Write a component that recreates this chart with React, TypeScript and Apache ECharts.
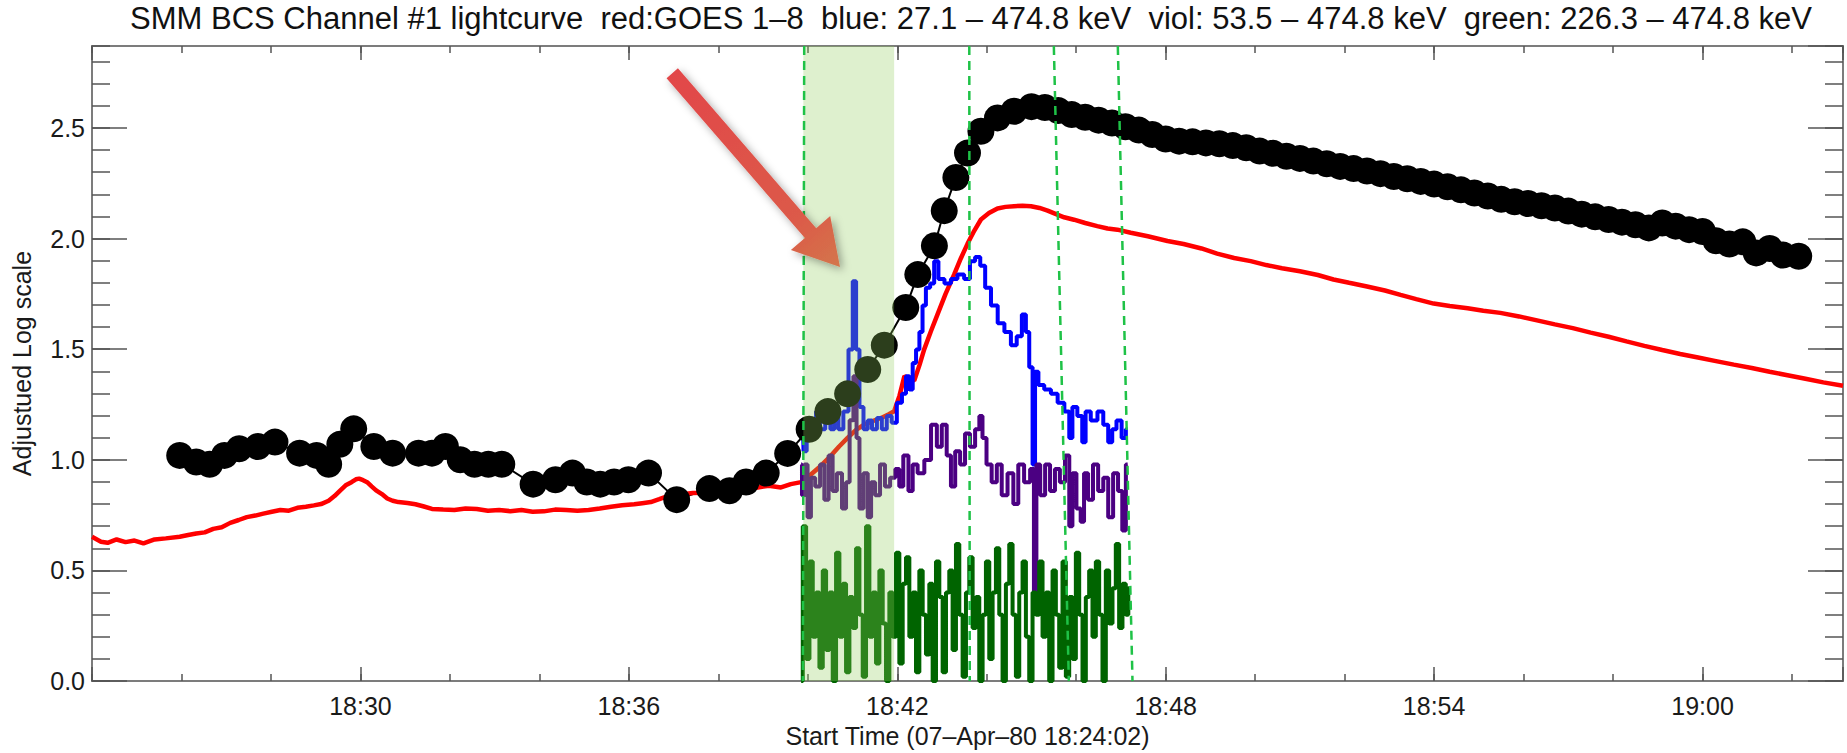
import React, { useEffect, useRef } from "react";
import * as echarts from "echarts";

// ---- axis ranges (minutes after 18:00) ----
const X_MIN = 24;
const X_MAX = 63.14;
const Y_MAX = 2.87;

const TITLE =
  "SMM BCS Channel #1 lightcurve  red:GOES 1\u20138  blue: 27.1 \u2013 474.8 keV  viol: 53.5 \u2013 474.8 keV  green: 226.3 \u2013 474.8 keV";
const X_NAME = "Start Time (07\u2013Apr\u201380 18:24:02)";
const Y_NAME = "Adjustued Log scale";

// ---- BCS channel #1 (black dots) ----
const bcs: number[][] = [
  [25.96, 1.02], [26.33, 0.99], [26.63, 0.98], [26.96, 1.02], [27.29, 1.05], [27.71, 1.06],
  [28.09, 1.08], [28.64, 1.03], [29.02, 1.02], [29.29, 0.98], [29.54, 1.07], [29.85, 1.14],
  [30.3, 1.06], [30.72, 1.03], [31.3, 1.03], [31.6, 1.03], [31.9, 1.06], [32.23, 1.0],
  [32.55, 0.98], [32.86, 0.98], [33.16, 0.98], [33.86, 0.89], [34.36, 0.91], [34.74, 0.94],
  [35.06, 0.9], [35.36, 0.89], [35.67, 0.9], [35.99, 0.91], [36.44, 0.94], [37.07, 0.82],
  [37.8, 0.87], [38.25, 0.86], [38.62, 0.9], [39.07, 0.94], [39.55, 1.029], [40.03, 1.138],
  [40.45, 1.218], [40.89, 1.298], [41.34, 1.408], [41.71, 1.518], [42.19, 1.688], [42.46, 1.837],
  [42.83, 1.967], [43.05, 2.126], [43.31, 2.276], [43.57, 2.386], [43.87, 2.485], [44.24, 2.545],
  [44.61, 2.575], [45.0, 2.596], [45.3, 2.592], [45.6, 2.578], [45.9, 2.56], [46.2, 2.548],
  [46.5, 2.535], [46.8, 2.522], [47.1, 2.505], [47.4, 2.49], [47.7, 2.47], [48.0, 2.45],
  [48.3, 2.44], [48.6, 2.437], [48.9, 2.432], [49.2, 2.428], [49.5, 2.42], [49.8, 2.41],
  [50.1, 2.395], [50.4, 2.385], [50.7, 2.372], [51.0, 2.362], [51.3, 2.35], [51.6, 2.338],
  [51.9, 2.326], [52.2, 2.316], [52.5, 2.305], [52.8, 2.293], [53.1, 2.28], [53.4, 2.27],
  [53.7, 2.258], [54.0, 2.246], [54.3, 2.234], [54.6, 2.22], [54.9, 2.206], [55.2, 2.192],
  [55.5, 2.177], [55.8, 2.166], [56.1, 2.158], [56.4, 2.148], [56.7, 2.138], [57.0, 2.124],
  [57.3, 2.11], [57.6, 2.098], [57.9, 2.086], [58.2, 2.074], [58.5, 2.062], [58.8, 2.048],
  [59.1, 2.07], [59.4, 2.056], [59.7, 2.04], [60.0, 2.032], [60.3, 1.99], [60.6, 1.975],
  [60.9, 1.985], [61.2, 1.935], [61.5, 1.955], [61.8, 1.925], [62.15, 1.92],
];

// ---- GOES 1-8 (red) ----
const goes: number[][] = [
  [24.0, 0.652], [24.2, 0.63], [24.35, 0.625], [24.55, 0.64], [24.75, 0.628], [24.95, 0.635],
  [25.15, 0.622], [25.4, 0.64], [25.65, 0.645], [25.96, 0.652], [26.15, 0.66], [26.33, 0.667],
  [26.52, 0.672], [26.71, 0.688], [26.9, 0.695], [27.09, 0.715], [27.28, 0.728], [27.46, 0.741],
  [27.65, 0.748], [27.83, 0.757], [28.02, 0.765], [28.21, 0.773], [28.4, 0.77], [28.59, 0.783],
  [28.78, 0.788], [28.96, 0.794], [29.12, 0.8], [29.29, 0.815], [29.42, 0.836], [29.54, 0.86],
  [29.67, 0.885], [29.8, 0.899], [29.9, 0.912], [29.97, 0.915], [30.06, 0.908], [30.15, 0.899],
  [30.25, 0.88], [30.35, 0.862], [30.48, 0.845], [30.6, 0.825], [30.72, 0.815], [30.85, 0.809],
  [31.05, 0.805], [31.23, 0.799], [31.4, 0.79], [31.6, 0.778], [31.85, 0.775], [32.1, 0.773],
  [32.35, 0.78], [32.6, 0.778], [32.85, 0.77], [33.1, 0.773], [33.35, 0.768], [33.6, 0.773],
  [33.85, 0.765], [34.1, 0.767], [34.35, 0.775], [34.6, 0.773], [34.85, 0.77], [35.1, 0.773],
  [35.35, 0.78], [35.6, 0.788], [35.85, 0.795], [36.12, 0.799], [36.3, 0.804], [36.49, 0.809],
  [36.68, 0.822], [36.87, 0.836], [37.05, 0.842], [37.24, 0.846], [37.43, 0.85], [37.62, 0.851],
  [37.87, 0.858], [38.12, 0.862], [38.37, 0.864], [38.62, 0.867], [38.88, 0.875], [39.13, 0.883],
  [39.4, 0.875], [39.62, 0.89], [39.85, 0.899], [40.05, 0.93], [40.25, 0.965], [40.52, 1.019],
  [40.7, 1.06], [40.89, 1.099], [41.08, 1.135], [41.26, 1.159], [41.45, 1.175], [41.64, 1.189],
  [41.8, 1.205], [41.93, 1.219], [42.05, 1.29], [42.16, 1.378], [42.27, 1.365], [42.38, 1.358],
  [42.5, 1.43], [42.6, 1.498], [42.75, 1.58], [42.9, 1.657], [43.08, 1.75], [43.27, 1.837],
  [43.42, 1.91], [43.57, 1.976], [43.72, 2.035], [43.87, 2.086], [44.05, 2.115], [44.24, 2.136],
  [44.42, 2.143], [44.61, 2.146], [44.8, 2.148], [44.99, 2.146], [45.18, 2.138], [45.36, 2.126],
  [45.55, 2.11], [45.73, 2.096], [45.95, 2.085], [46.2, 2.07], [46.47, 2.056], [46.7, 2.045],
  [46.92, 2.04], [47.22, 2.026], [47.6, 2.01], [48.04, 1.989], [48.4, 1.975], [48.8, 1.955],
  [49.15, 1.932], [49.53, 1.912], [49.9, 1.898], [50.25, 1.88], [50.6, 1.866], [51.0, 1.852],
  [51.4, 1.835], [51.75, 1.815], [52.1, 1.8], [52.5, 1.783], [52.9, 1.765], [53.25, 1.745],
  [53.6, 1.726], [53.99, 1.706], [54.35, 1.695], [54.75, 1.685], [55.1, 1.674], [55.48, 1.664],
  [55.9, 1.648], [56.3, 1.63], [56.7, 1.612], [57.1, 1.595], [57.5, 1.575], [57.9, 1.556],
  [58.3, 1.535], [58.7, 1.515], [59.1, 1.496], [59.5, 1.478], [59.9, 1.462], [60.3, 1.446],
  [60.7, 1.43], [61.1, 1.415], [61.5, 1.398], [61.9, 1.382], [62.3, 1.366], [62.7, 1.35],
  [63.14, 1.335],
];

// ---- HXRBS 27.1-474.8 keV (blue) ----
const blue: number[][] = [
  [39.89, 1.159], [39.92, 1.039], [40.03, 1.178], [40.15, 1.099], [40.22, 1.218], [40.33, 1.138],
  [40.45, 1.178], [40.56, 1.138], [40.63, 1.218], [40.74, 1.138], [40.85, 1.218], [40.97, 1.498],
  [41.04, 1.807], [41.12, 1.498], [41.19, 1.239], [41.3, 1.138], [41.38, 1.178], [41.49, 1.138],
  [41.6, 1.189], [41.71, 1.138], [41.82, 1.198], [41.93, 1.168], [42.05, 1.258], [42.16, 1.298],
  [42.23, 1.378], [42.31, 1.318], [42.38, 1.438], [42.46, 1.498], [42.53, 1.578], [42.6, 1.697],
  [42.68, 1.777], [42.79, 1.797], [42.86, 1.897], [42.98, 1.817], [43.13, 1.797], [43.27, 1.817],
  [43.42, 1.837], [43.57, 1.817], [43.68, 1.897], [43.8, 1.917], [43.91, 1.877], [44.02, 1.777],
  [44.17, 1.697], [44.32, 1.617], [44.47, 1.578], [44.61, 1.518], [44.73, 1.558], [44.84, 1.657],
  [44.91, 1.578], [44.99, 1.418], [45.06, 0.979], [45.1, 1.398], [45.21, 1.338], [45.36, 1.318],
  [45.51, 1.298], [45.66, 1.258], [45.81, 1.218], [45.88, 1.099], [45.95, 1.239], [46.1, 1.198],
  [46.17, 1.079], [46.25, 1.218], [46.4, 1.178], [46.55, 1.218], [46.66, 1.159], [46.77, 1.079],
  [46.84, 1.138], [46.96, 1.178], [47.07, 1.099], [47.15, 1.138],
];

// ---- 53.5-474.8 keV (violet) ----
const viol: number[][] = [
  [39.85, 0.979], [39.89, 0.84], [39.96, 0.979], [40.03, 0.74], [40.11, 0.919], [40.22, 0.879],
  [40.33, 0.979], [40.41, 0.819], [40.52, 1.019], [40.59, 0.859], [40.71, 0.939], [40.82, 0.78],
  [40.89, 0.899], [40.98, 1.179], [41.06, 1.378], [41.12, 1.099], [41.19, 0.78], [41.3, 0.939],
  [41.38, 0.74], [41.45, 0.899], [41.56, 0.84], [41.67, 0.979], [41.78, 0.879], [41.9, 0.919],
  [42.01, 0.959], [42.08, 0.879], [42.19, 1.019], [42.31, 0.859], [42.38, 0.979], [42.53, 0.939],
  [42.68, 0.999], [42.83, 1.159], [42.94, 1.059], [43.05, 1.159], [43.16, 1.019], [43.24, 0.879],
  [43.35, 1.039], [43.46, 0.979], [43.57, 1.119], [43.68, 1.059], [43.8, 1.138], [43.87, 1.198],
  [43.94, 1.099], [44.05, 0.979], [44.17, 0.899], [44.28, 0.979], [44.39, 0.84], [44.54, 0.939],
  [44.65, 0.8], [44.76, 0.979], [44.91, 0.899], [45.03, 0.959], [45.08, 0.4], [45.14, 0.979],
  [45.25, 0.84], [45.36, 0.979], [45.47, 0.859], [45.58, 0.959], [45.69, 0.899], [45.81, 1.019],
  [45.88, 0.7], [45.95, 0.939], [46.06, 0.78], [46.14, 0.72], [46.21, 0.939], [46.32, 0.819],
  [46.43, 0.979], [46.55, 0.859], [46.66, 0.919], [46.77, 0.74], [46.88, 0.939], [46.99, 0.859],
  [47.07, 0.68], [47.15, 0.979],
];

// ---- 226.3-474.8 keV (green) ----
const green: number[][] = [
  [39.851, 0.0], [39.925, 0.7], [40.0, 0.1], [40.074, 0.54], [40.148, 0.2], [40.223, 0.4],
  [40.297, 0.06], [40.372, 0.5], [40.446, 0.14], [40.521, 0.4], [40.595, 0.0], [40.669, 0.58],
  [40.744, 0.2], [40.818, 0.44], [40.893, 0.04], [40.967, 0.38], [41.042, 0.24], [41.116, 0.6],
  [41.191, 0.3], [41.265, 0.02], [41.339, 0.7], [41.414, 0.2], [41.488, 0.4], [41.563, 0.08],
  [41.637, 0.5], [41.712, 0.26], [41.786, 0.0], [41.861, 0.4], [41.935, 0.2], [42.009, 0.58],
  [42.084, 0.08], [42.158, 0.44], [42.233, 0.56], [42.307, 0.2], [42.382, 0.4], [42.456, 0.04],
  [42.531, 0.5], [42.605, 0.3], [42.679, 0.12], [42.754, 0.44], [42.828, 0.0], [42.903, 0.54],
  [42.977, 0.38], [43.052, 0.04], [43.126, 0.4], [43.2, 0.5], [43.275, 0.14], [43.349, 0.62],
  [43.424, 0.3], [43.498, 0.02], [43.573, 0.4], [43.647, 0.56], [43.722, 0.24], [43.796, 0.38],
  [43.87, 0.0], [43.945, 0.3], [44.019, 0.54], [44.094, 0.1], [44.168, 0.4], [44.243, 0.6],
  [44.317, 0.3], [44.391, 0.0], [44.466, 0.44], [44.54, 0.62], [44.615, 0.3], [44.689, 0.02],
  [44.764, 0.4], [44.838, 0.54], [44.913, 0.2], [44.987, 0.0], [45.061, 0.4], [45.136, 0.3],
  [45.21, 0.54], [45.285, 0.2], [45.359, 0.4], [45.434, 0.0], [45.508, 0.5], [45.582, 0.3],
  [45.657, 0.06], [45.731, 0.54], [45.806, 0.02], [45.88, 0.38], [45.955, 0.1], [46.029, 0.58],
  [46.104, 0.3], [46.178, 0.0], [46.252, 0.38], [46.327, 0.5], [46.401, 0.2], [46.476, 0.54],
  [46.55, 0.3], [46.625, 0.0], [46.699, 0.5], [46.774, 0.26], [46.848, 0.42], [46.922, 0.62],
  [46.997, 0.24], [47.071, 0.44], [47.146, 0.3], [47.183, 0.42],
];

// ---- annotations ----
const shade: number[][] = [[39.9, 41.93]]; // [start, end]
const dashLines: number[][] = [
  [39.92, 39.89], [43.61, 43.62], [45.5, 45.835], [46.93, 47.258], // [x at top, x at bottom]
];
const arrow: number[][] = [[36.97, 2.747, 40.72, 1.871]]; // tail x,y -> tip x,y

const FONT = "'Liberation Sans', Arial, Helvetica, sans-serif";

const fmtTime = (v: number) => {
  const t = Math.round(v);
  const h = 18 + Math.floor(t / 60);
  const m = t % 60;
  return `${h}:${String(m).padStart(2, "0")}`;
};

export default function App() {
  const ref = useRef<HTMLDivElement>(null);

  useEffect(() => {
    if (!ref.current) return;
    const chart = echarts.init(ref.current, undefined, { renderer: "svg" });

    const lineCol = "#7c7c7c";
    const tickCol = "#555";
    const baseX = {
      type: "value" as const,
      min: X_MIN,
      max: X_MAX,
      splitLine: { show: false },
      axisLine: { show: true, onZero: false, lineStyle: { color: lineCol, width: 2 } },
    };
    const baseY = {
      type: "value" as const,
      min: 0,
      max: Y_MAX,
      splitLine: { show: false },
      axisLine: { show: true, onZero: false, lineStyle: { color: lineCol, width: 2 } },
    };

    const option: any = {
      animation: false,
      backgroundColor: "#fff",
      textStyle: { fontFamily: FONT },
      grid: { left: 92, right: 4, top: 46, bottom: 65, containLabel: false },
      graphic: [
        {
          type: "text",
          x: 971,
          y: 18,
          style: {
            text: TITLE,
            fontFamily: FONT,
            fontSize: 31,
            fill: "#111",
            textAlign: "center",
            textVerticalAlign: "middle",
          },
        },
      ],
      xAxis: [
        {
          ...baseX,
          position: "bottom",
          interval: 2,
          axisTick: { show: true, inside: true, length: 7, lineStyle: { color: tickCol, width: 1.5 } },
          axisLabel: {
            show: true,
            margin: 12,
            fontSize: 25,
            color: "#1a1a1a",
            fontFamily: FONT,
            showMaxLabel: false,
            formatter: (v: number) => {
              const r = Math.round(v);
              if (Math.abs(v - r) > 1e-6 || r % 6 !== 0 || r === 24) return "";
              return fmtTime(r);
            },
          },
          name: X_NAME,
          nameLocation: "middle",
          nameGap: 36,
          nameTextStyle: { fontSize: 25, color: "#1a1a1a", fontFamily: FONT },
        },
        {
          ...baseX,
          position: "bottom",
          interval: 6,
          axisTick: { show: true, inside: true, length: 14, lineStyle: { color: tickCol, width: 1.5 } },
          axisLabel: { show: false },
        },
        {
          ...baseX,
          position: "top",
          interval: 2,
          axisTick: { show: true, inside: true, length: 7, lineStyle: { color: tickCol, width: 1.5 } },
          axisLabel: { show: false },
        },
        {
          ...baseX,
          position: "top",
          interval: 6,
          axisTick: { show: true, inside: true, length: 14, lineStyle: { color: tickCol, width: 1.5 } },
          axisLabel: { show: false },
        },
      ],
      yAxis: [
        {
          ...baseY,
          position: "left",
          interval: 0.5,
          axisTick: { show: true, inside: true, length: 35, lineStyle: { color: tickCol, width: 1.5 } },
          axisLabel: {
            show: true,
            margin: 7,
            fontSize: 25,
            color: "#1a1a1a",
            fontFamily: FONT,
            showMaxLabel: false,
            formatter: (v: number) => v.toFixed(1),
          },
          name: Y_NAME,
          nameLocation: "middle",
          nameRotate: 90,
          nameGap: 58,
          nameTextStyle: { fontSize: 25, color: "#1a1a1a", fontFamily: FONT },
        },
        {
          ...baseY,
          position: "left",
          interval: 0.1,
          axisTick: { show: true, inside: true, length: 18, lineStyle: { color: tickCol, width: 1.5 } },
          axisLabel: { show: false },
        },
        {
          ...baseY,
          position: "right",
          interval: 0.5,
          axisTick: { show: true, inside: true, length: 35, lineStyle: { color: tickCol, width: 1.5 } },
          axisLabel: { show: false },
        },
        {
          ...baseY,
          position: "right",
          interval: 0.1,
          axisTick: { show: true, inside: true, length: 18, lineStyle: { color: tickCol, width: 1.5 } },
          axisLabel: { show: false },
        },
      ],
      series: [
        {
          name: "BCS",
          type: "line",
          data: bcs,
          z: 2,
          symbol: "circle",
          symbolSize: 27,
          showAllSymbol: true,
          itemStyle: { color: "#000" },
          lineStyle: { color: "#000", width: 2 },
        },
        {
          name: "GOES",
          type: "line",
          data: goes,
          z: 2,
          symbol: "none",
          lineStyle: { color: "#ff0000", width: 4.5 },
        },
        {
          name: "blue",
          type: "line",
          data: blue,
          z: 2,
          step: "middle",
          symbol: "none",
          lineStyle: { color: "#0000ff", width: 4 },
        },
        {
          name: "viol",
          type: "line",
          data: viol,
          z: 2,
          step: "middle",
          symbol: "none",
          lineStyle: { color: "#4b0082", width: 4 },
        },
        {
          name: "green",
          type: "line",
          data: green,
          z: 2,
          step: "middle",
          symbol: "none",
          lineStyle: { color: "#006400", width: 4 },
        },
        {
          name: "shade",
          type: "custom",
          z: 3,
          data: shade,
          renderItem: (params: any, api: any) => {
            const a = api.coord([api.value(0), Y_MAX]);
            const b = api.coord([api.value(1), 0]);
            return {
              type: "rect",
              shape: { x: a[0], y: a[1], width: b[0] - a[0], height: b[1] - a[1] },
              style: { fill: "rgba(145,205,92,0.3)" },
            };
          },
        },
        {
          name: "dash",
          type: "custom",
          z: 4,
          data: dashLines,
          renderItem: (params: any, api: any) => {
            const a = api.coord([api.value(0), Y_MAX]);
            const b = api.coord([api.value(1), 0]);
            return {
              type: "line",
              shape: { x1: a[0], y1: a[1], x2: b[0], y2: b[1] },
              style: { stroke: "#1fc247", lineWidth: 2.5, lineDash: [9, 6], fill: null },
            };
          },
        },
        {
          name: "arrow",
          type: "custom",
          z: 5,
          data: arrow,
          renderItem: (params: any, api: any) => {
            const p0 = api.coord([api.value(0), api.value(1)]);
            const p1 = api.coord([api.value(2), api.value(3)]);
            const dx = p1[0] - p0[0];
            const dy = p1[1] - p0[1];
            const len = Math.sqrt(dx * dx + dy * dy);
            const ux = dx / len;
            const uy = dy / len;
            const nx = -uy;
            const ny = ux;
            const headL = 45;
            const headW = 26;
            const shaftW = 7.5;
            const bx = p1[0] - ux * headL;
            const by = p1[1] - uy * headL;
            const pts = [
              [p0[0] + nx * shaftW, p0[1] + ny * shaftW],
              [bx + nx * shaftW, by + ny * shaftW],
              [bx + nx * headW, by + ny * headW],
              [p1[0], p1[1]],
              [bx - nx * headW, by - ny * headW],
              [bx - nx * shaftW, by - ny * shaftW],
              [p0[0] - nx * shaftW, p0[1] - ny * shaftW],
            ];
            return {
              type: "polygon",
              shape: { points: pts },
              style: {
                fill: new echarts.graphic.LinearGradient(
                  p0[0], p0[1], p1[0], p1[1],
                  [
                    { offset: 0, color: "#e2474a" },
                    { offset: 0.75, color: "#dc5a48" },
                    { offset: 1, color: "#d3764c" },
                  ],
                  true
                ),
                shadowBlur: 8,
                shadowColor: "rgba(0,0,0,0.35)",
                shadowOffsetX: 3,
                shadowOffsetY: 3,
              },
            };
          },
        },
      ],
    };

    chart.setOption(option);
    return () => chart.dispose();
  }, []);

  return (
    <div
      ref={ref}
      style={{ position: "fixed", left: 0, top: 0, width: 1847, height: 753, background: "#fff" }}
    />
  );
}
